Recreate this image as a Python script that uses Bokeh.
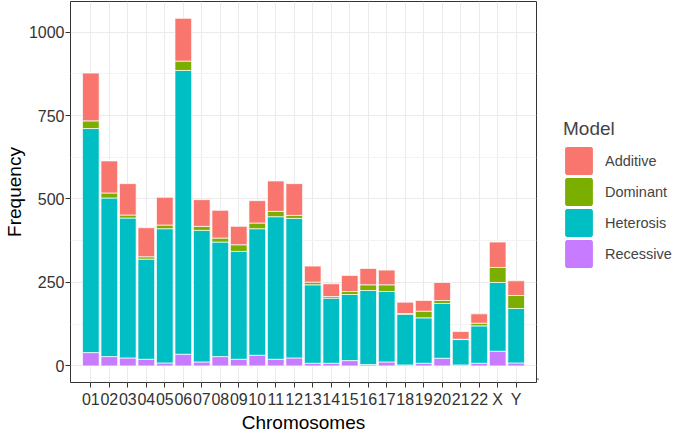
from bokeh.plotting import figure
from bokeh.layouts import row
from bokeh.models import FactorRange, Range1d, FixedTicker, Legend, LegendItem, ColumnDataSource
from bokeh.embed import file_html
from bokeh.resources import INLINE

chromosomes = ["01", "02", "03", "04", "05", "06", "07", "08", "09", "10", "11", "12",
               "13", "14", "15", "16", "17", "18", "19", "20", "21", "22", "X", "Y"]
recessive = [40, 28, 24, 20, 9, 35, 12, 28, 20, 32, 20, 24, 8, 8, 16, 4, 12, 3, 8, 23, 3, 8, 44, 9]
heterosis = [671, 475, 419, 300, 402, 850, 394, 343, 323, 379, 427, 418, 235, 195, 198, 222, 211,
             152, 136, 164, 76, 112, 206, 163]
dominant = [23, 15, 9, 7, 11, 28, 12, 12, 20, 17, 16, 9, 8, 5, 9, 17, 20, 2, 20, 9, 1, 8, 45, 39]
additive = [143, 96, 94, 87, 83, 128, 80, 83, 55, 67, 91, 95, 48, 38, 48, 49, 44, 34, 32, 54, 23,
            28, 76, 44]

models = ["Recessive", "Heterosis", "Dominant", "Additive"]
colors = ["#C77CFF", "#00BFC4", "#7CAE00", "#F8766D"]
y_ticks = [0, 250, 500, 750, 1000]
y_minor = [125, 375, 625, 875]

data = dict(chrom=chromosomes, Recessive=recessive, Heterosis=heterosis,
            Dominant=dominant, Additive=additive)

FONT = "Liberation Sans"

p = figure(frame_width=466, frame_height=381, output_backend="svg", toolbar_location=None,
           x_range=FactorRange(*chromosomes, range_padding=0.05),
           y_range=Range1d(-49.6, 1091.5),
           min_border_left=63, min_border_right=1, min_border_top=1, min_border_bottom=50)

rs = p.vbar_stack(models, x="chrom", width=0.9, color=colors, source=data,
                  line_color="white", line_width=0.7)

p.background_fill_color = "white"
p.outline_line_color = "#333333"
p.outline_line_width = 1

p.yaxis.ticker = FixedTicker(ticks=y_ticks, minor_ticks=y_minor)
p.ygrid.grid_line_color = "#EBEBEB"
p.ygrid.grid_line_width = 1
p.ygrid.minor_grid_line_color = "#F3F3F3"
p.ygrid.minor_grid_line_width = 1
p.xgrid.grid_line_color = "#EBEBEB"
p.xgrid.grid_line_width = 1

for ax in (p.xaxis, p.yaxis):
    ax.axis_line_color = None
    ax.major_tick_line_color = "#333333"
    ax.major_tick_in = 0
    ax.major_tick_out = 5
    ax.minor_tick_line_color = None
    ax.major_label_text_font = FONT
    ax.major_label_text_font_size = "16px"
    ax.major_label_text_color = "#333333"
    ax.axis_label_text_font = FONT
    ax.axis_label_text_font_size = "19px"
    ax.axis_label_text_font_style = "normal"
    ax.axis_label_text_color = "black"

p.xaxis.axis_label = "Chromosomes"
p.yaxis.axis_label = "Frequency"
p.xaxis.major_label_standoff = 3
p.xaxis.axis_label_standoff = 1
p.yaxis.major_label_standoff = 1
p.yaxis.axis_label_standoff = 1

# legend panel (separate figure to the right of the plot)
q = figure(width=139, height=432, output_backend="svg", toolbar_location=None,
           x_range=Range1d(0, 1), y_range=Range1d(0, 1),
           x_axis_type=None, y_axis_type=None,
           min_border_left=0, min_border_right=0, min_border_top=0, min_border_bottom=0)
q.outline_line_color = None
q.grid.visible = False
q.background_fill_color = "white"

key_renderers = []
for m, c in zip(models, colors):
    src = ColumnDataSource(dict(x=[-50], top=[-50], bottom=[-60]))
    key_renderers.append(q.vbar(x="x", top="top", bottom="bottom", width=0.9, source=src,
                                fill_color=c, line_color=c, line_width=3))

items = [LegendItem(label=m, renderers=[r]) for m, r in zip(models, key_renderers)][::-1]
legend = Legend(items=items, title="Model", location=(26, 110),
                glyph_width=31, glyph_height=31, spacing=0, label_standoff=11,
                label_text_font=FONT, label_text_font_size="14.5px",
                title_text_font=FONT, title_text_font_size="19px",
                title_text_font_style="normal", title_standoff=5,
                margin=0, padding=0, border_line_color=None,
                background_fill_alpha=0)
q.add_layout(legend, "center")

layout = row(p, q)
open("out.html", "w").write(file_html(layout, INLINE))
